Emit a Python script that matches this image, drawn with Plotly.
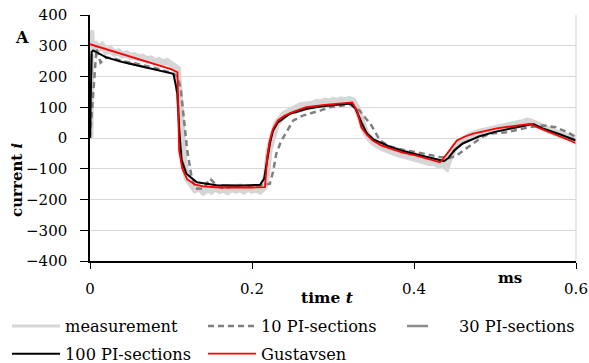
import plotly.graph_objects as go

# ---- data (time in ms, current) ----
meas_t = [0, 0.001, 0.002, 0.005, 0.01, 0.015, 0.02, 0.025, 0.03, 0.035, 0.04, 0.045, 0.05, 0.055,
          0.06, 0.065, 0.07, 0.075, 0.08, 0.085, 0.09, 0.095, 0.1, 0.105, 0.108, 0.11, 0.113, 0.116,
          0.12, 0.125, 0.13, 0.135, 0.14, 0.145, 0.15, 0.155, 0.16, 0.165, 0.17, 0.175, 0.18, 0.185,
          0.19, 0.195, 0.2, 0.205, 0.21, 0.215, 0.218, 0.221, 0.225, 0.23, 0.235, 0.24, 0.245, 0.25,
          0.255, 0.26, 0.265, 0.27, 0.275, 0.28, 0.285, 0.29, 0.295, 0.3, 0.305, 0.31, 0.315, 0.32,
          0.325, 0.33, 0.335, 0.34, 0.345, 0.35, 0.36, 0.37, 0.38, 0.39, 0.4, 0.41, 0.42, 0.425, 0.43,
          0.435, 0.44, 0.443, 0.447, 0.45, 0.455, 0.46, 0.47, 0.48, 0.49, 0.5, 0.51, 0.52, 0.53, 0.535,
          0.54, 0.545, 0.55, 0.56, 0.57, 0.58, 0.59, 0.6]
meas_i = [0, 350, 280, 310, 290, 300, 282, 288, 276, 280, 270, 274, 265, 268,
          260, 263, 254, 257, 248, 252, 244, 249, 240, 236, 225, 150, 20, -80,
          -130, -155, -168, -162, -175, -165, -172, -160, -170, -166, -174, -163, -170, -165,
          -172, -162, -170, -166, -172, -160, -120, -40, 10, 45, 62, 78, 85, 95,
          98, 105, 106, 112, 110, 116, 114, 120, 117, 122, 119, 124, 121, 125,
          120, 95, 55, 20, 0, -15, -30, -42, -52, -58, -66, -72, -80, -78, -88,
          -85, -95, -70, -45, -30, -15, -5, 8, 18, 25, 32, 36, 42, 48, 50,
          55, 52, 45, 32, 22, 12, 5, -2]

pi10_t = [0, 0.004, 0.008, 0.013, 0.02, 0.03, 0.04, 0.06, 0.08, 0.1,
          0.108, 0.112, 0.116, 0.12, 0.125, 0.13, 0.14, 0.148, 0.155, 0.165,
          0.18, 0.2, 0.215, 0.222, 0.226, 0.23, 0.236, 0.241, 0.251, 0.262,
          0.272, 0.285, 0.296, 0.31, 0.321, 0.326, 0.333, 0.34, 0.346, 0.352,
          0.358, 0.368, 0.379, 0.39, 0.403, 0.42, 0.432, 0.444, 0.452, 0.461,
          0.469, 0.477, 0.485, 0.494, 0.505, 0.514, 0.53, 0.543, 0.56, 0.575,
          0.59, 0.6]
pi10_i = [0, 150, 290, 245, 262, 258, 250, 240, 228, 212,
          200, 160, 60, -40, -120, -164, -165, -132, -150, -165,
          -155, -158, -152, -149, -110, -51, -10, 14, 57, 72,
          79, 90, 100, 106, 109, 100, 89, 65, 47, 20,
          -8, -25, -34, -40, -46, -55, -62, -65, -58, -41,
          -25, -8, 5, 14, 17, 19, 28, 35, 41, 35,
          18, 3]

pi30_t = [0, 0.002, 0.004, 0.01, 0.02, 0.04, 0.06, 0.08, 0.1, 0.103,
          0.108, 0.11, 0.113, 0.119, 0.132, 0.156, 0.18, 0.21, 0.215, 0.218,
          0.222, 0.226, 0.232, 0.247, 0.268, 0.29, 0.31, 0.322, 0.328, 0.335,
          0.342, 0.35, 0.37, 0.39, 0.41, 0.43, 0.437, 0.442, 0.45, 0.46,
          0.48, 0.5, 0.52, 0.543, 0.548, 0.56, 0.58, 0.6]
pi30_i = [0, 278, 284, 276, 263, 248, 236, 225, 213, 210,
          146, 38, -70, -114, -143, -153, -154, -151, -130, -80,
          -16, 24, 50, 78, 95, 104, 109, 111, 96, 52,
          16, -4, -27, -44, -57, -69, -74, -65, -39, -17,
          5, 20, 32, 43, 44, 29, 11, -7]

pi100_t = [0, 0.002, 0.004, 0.01, 0.02, 0.04, 0.06, 0.08, 0.1, 0.103,
           0.108, 0.11, 0.113, 0.119, 0.132, 0.156, 0.18, 0.21, 0.215, 0.218,
           0.222, 0.226, 0.232, 0.247, 0.268, 0.29, 0.31, 0.322, 0.328, 0.335,
           0.342, 0.35, 0.37, 0.39, 0.41, 0.43, 0.437, 0.442, 0.45, 0.46,
           0.48, 0.5, 0.52, 0.543, 0.548, 0.56, 0.58, 0.6]
pi100_i = [0, 280, 285, 276, 262, 247, 235, 224, 212, 209,
           144, 35, -73, -116, -144, -154, -155, -152, -132, -83,
           -18, 24, 51, 79, 96, 104, 109, 112, 95, 50,
           15, -5, -28, -45, -58, -70, -75, -66, -40, -18,
           5, 20, 32, 44, 45, 30, 12, -8]

gus_t = [0, 0.01, 0.02, 0.04, 0.06, 0.08, 0.1, 0.108, 0.11, 0.114,
         0.12, 0.13, 0.14, 0.16, 0.18, 0.2, 0.216, 0.219, 0.222, 0.226,
         0.232, 0.24, 0.25, 0.267, 0.29, 0.31, 0.324, 0.33, 0.335, 0.342,
         0.349, 0.36, 0.37, 0.385, 0.403, 0.42, 0.432, 0.436, 0.442, 0.453,
         0.463, 0.473, 0.49, 0.502, 0.52, 0.543, 0.555, 0.568, 0.585, 0.6]
gus_i = [305, 297, 289, 271, 255, 240, 224, 214, -40, -100,
         -135, -152, -157, -161, -162, -161, -160, -60, -8, 30,
         57, 72, 84, 100, 108, 113, 116, 85, 35, 10,
         -8, -25, -34, -47, -57, -70, -79, -68, -46, -8,
         5, 14, 24, 31, 38, 46, 32, 19, 0, -17]

y_ticks = [-400, -300, -200, -100, 0, 100, 200, 300, 400]
x_ticks = [0, 0.2, 0.4, 0.6]
x_tick_labels = ["0", "0.2", "0.4", "0.6"]

FONT = "DejaVu Serif"
LEG_FONT = dict(family=FONT, size=16.2, color="black")
MEAS_COLOR = "#d6d6d6"

fig = go.Figure()
# measurement: wide noisy band (no legend entry) + legend-carrying line
fig.add_trace(go.Scatter(x=meas_t, y=meas_i, mode="lines", showlegend=False, hoverinfo="skip",
                         line=dict(color=MEAS_COLOR, width=7)))
fig.add_trace(go.Scatter(x=meas_t, y=meas_i, mode="lines", name="measurement",
                         legend="legend", legendgroup="g1",
                         line=dict(color=MEAS_COLOR, width=3)))
fig.add_trace(go.Scatter(x=pi10_t, y=pi10_i, mode="lines", name="10 PI-sections",
                         legend="legend2", legendgroup="g2",
                         line=dict(color="#7f7f7f", width=2.5, dash="6px,4px")))
fig.add_trace(go.Scatter(x=pi30_t, y=pi30_i, mode="lines", name="30 PI-sections",
                         legend="legend3", legendgroup="g3",
                         line=dict(color="#8c8c8c", width=2.5, dash="0px,1px,21px,40px")))
fig.add_trace(go.Scatter(x=pi100_t, y=pi100_i, mode="lines", name="100 PI-sections",
                         legend="legend", legendgroup="g4",
                         line=dict(color="#000000", width=2)))
fig.add_trace(go.Scatter(x=gus_t, y=gus_i, mode="lines", name="Gustavsen",
                         legend="legend2", legendgroup="g5",
                         line=dict(color="#ff0000", width=1.8)))

def leg(xp):
    return dict(orientation="v", xref="paper", yref="container", x=xp, y=0.1485,
                xanchor="left", yanchor="top", font=LEG_FONT, itemwidth=48,
                tracegroupgap=3.5, traceorder="grouped", bgcolor="rgba(0,0,0,0)")

fig.update_layout(
    width=589, height=363,
    margin=dict(l=90, r=13, t=15, b=102),
    paper_bgcolor="white", plot_bgcolor="white",
    font=dict(family=FONT, size=15, color="black"),
    showlegend=True,
    legend=leg(-0.1707),
    legend2=leg(0.2325),
    legend3=leg(0.64),
    xaxis=dict(range=[0, 0.6], tickvals=x_ticks, ticktext=x_tick_labels, automargin=False,
               showgrid=False, zeroline=False, showline=True, linecolor="black", linewidth=1.5,
               ticks="outside", ticklen=6, tickwidth=1.2, tickcolor="black",
               ticklabelstandoff=7, tickfont=dict(family=FONT, size=15)),
    yaxis=dict(range=[-400, 400], tickvals=y_ticks, automargin=False,
               showgrid=True, gridcolor="#d9d9d9", gridwidth=1.2, zeroline=False,
               showline=True, linecolor="black", linewidth=1.5,
               ticks="outside", ticklen=8, tickwidth=1.2, tickcolor="black",
               ticklabelstandoff=10, tickfont=dict(family=FONT, size=15)),
)

fig.add_shape(type="line", xref="paper", yref="paper", x0=1, x1=1, y0=0, y1=1,
              line=dict(color="#d9d9d9", width=1.2))

ann = dict(xref="paper", yref="paper", showarrow=False, xanchor="center", yanchor="middle")
fig.add_annotation(text="<b>A</b>", x=-0.14, y=0.91, font=dict(family=FONT, size=16), **ann)
fig.add_annotation(text="<b>current <i>i</i></b>", x=-0.15, y=0.33, textangle=-90,
                   font=dict(family=FONT, size=15), **ann)
fig.add_annotation(text="<b>time <i>t</i></b>", x=0.488, y=-0.15,
                   font=dict(family=FONT, size=15.5), **ann)
fig.add_annotation(text="<b>ms</b>", x=0.864, y=-0.07, font=dict(family=FONT, size=15), **ann)

fig.write_html("out.html", config={"displayModeBar": False},
               post_script="document.body.style.margin='0';")
